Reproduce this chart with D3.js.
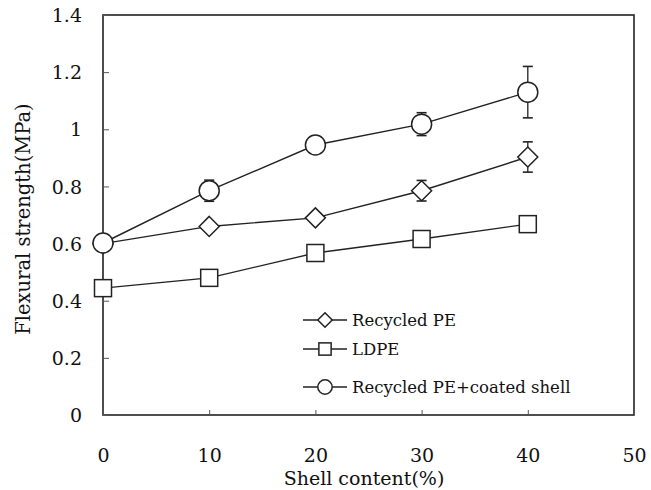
<!DOCTYPE html>
<html>
<head>
<meta charset="utf-8">
<script src="https://cdn.jsdelivr.net/npm/d3@7"></script>
<style>
  body { margin: 0; background: #fff; }
  svg text { fill: #111; }
</style>
</head>
<body>
<div id="chart"></div>
<script>
// data
var shellContent = [0, 10, 20, 30, 40];
var recycledPE = [0.60, 0.66, 0.69, 0.785, 0.903];
var recycledPEErr = [0, 0, 0, 0.036, 0.053];
var ldpe = [0.444, 0.48, 0.567, 0.616, 0.668];
var ldpeErr = [0, 0, 0, 0, 0];
var coatedShell = [0.602, 0.785, 0.945, 1.018, 1.13];
var coatedShellErr = [0, 0.037, 0, 0.04, 0.09];
var xTicks = [0, 10, 20, 30, 40, 50];
var yTicks = [0, 0.2, 0.4, 0.6, 0.8, 1, 1.2, 1.4];

var serif = "DejaVu Serif";
var width = 651, height = 490;
var margin = {top: 15, right: 17, bottom: 75, left: 103};

var svg = d3.select("#chart").append("svg")
    .attr("width", width)
    .attr("height", height)
    .style("font-family", serif);

var x = d3.scaleLinear().domain([0, 50]).range([margin.left, width - margin.right]);
var y = d3.scaleLinear().domain([0, 1.4]).range([height - margin.bottom, margin.top]);

// frame
svg.append("rect")
    .attr("x", x(0)).attr("y", y(1.4))
    .attr("width", x(50) - x(0)).attr("height", y(0) - y(1.4))
    .attr("fill", "none").attr("stroke", "#222").attr("stroke-width", 1.6);

// y axis, ticks inside
var yAxis = svg.append("g")
    .attr("transform", "translate(" + x(0) + ",0)")
    .call(d3.axisRight(y).tickValues(yTicks).tickSize(6).tickFormat(function(d) { return d; }));
yAxis.attr("font-family", null);
yAxis.select(".domain").remove();
yAxis.selectAll("line").attr("stroke", "#555");
yAxis.selectAll("text")
    .attr("x", -21)
    .attr("text-anchor", "end")
    .attr("dy", "0.35em")
    .style("font-family", serif)
    .style("font-size", "19px");

// x axis, ticks inside
var xAxis = svg.append("g")
    .attr("transform", "translate(0," + y(0) + ")")
    .call(d3.axisTop(x).tickValues(xTicks).tickSize(5).tickFormat(function(d) { return d; }));
xAxis.attr("font-family", null);
xAxis.select(".domain").remove();
xAxis.selectAll("line").attr("stroke", "#555");
xAxis.selectAll("text")
    .attr("y", 47)
    .attr("dy", 0)
    .style("font-family", serif)
    .style("font-size", "19px");

// axis titles
svg.append("text")
    .attr("x", 364).attr("y", 485)
    .attr("text-anchor", "middle")
    .style("font-size", "19px")
    .text("Shell content(%)");

svg.append("text")
    .attr("transform", "translate(30,219) rotate(-90)")
    .attr("text-anchor", "middle")
    .style("font-size", "19.5px")
    .text("Flexural strength(MPa)");

var line = d3.line()
    .x(function(d) { return x(d[0]); })
    .y(function(d) { return y(d[1]); });

function drawSeries(vals, errs, marker) {
  var pts = shellContent.map(function(c, i) { return [c, vals[i], errs[i]]; });
  var g = svg.append("g");
  g.append("path")
      .datum(pts)
      .attr("d", line)
      .attr("fill", "none")
      .attr("stroke", "#222")
      .attr("stroke-width", 1.4);
  // error bars
  pts.filter(function(d) { return d[2] > 0; }).forEach(function(d) {
    var cx = x(d[0]);
    [d[1] + d[2], d[1] - d[2]].forEach(function(v) {
      g.append("line")
          .attr("x1", cx).attr("x2", cx)
          .attr("y1", y(d[1])).attr("y2", y(v))
          .attr("stroke", "#222").attr("stroke-width", 1.3);
      g.append("line")
          .attr("x1", cx - 5).attr("x2", cx + 5)
          .attr("y1", y(v)).attr("y2", y(v))
          .attr("stroke", "#222").attr("stroke-width", 1.6);
    });
  });
  pts.forEach(function(d) {
    drawMarker(g, marker, x(d[0]), y(d[1]), 1);
  });
}

function drawMarker(g, marker, cx, cy, s) {
  if (marker === "circle") {
    g.append("circle").attr("cx", cx).attr("cy", cy).attr("r", 10 * s)
        .attr("fill", "#fff").attr("stroke", "#222").attr("stroke-width", 1.5);
  } else if (marker === "square") {
    var h = 8.5 * s;
    g.append("rect").attr("x", cx - h).attr("y", cy - h).attr("width", 2 * h).attr("height", 2 * h)
        .attr("fill", "#fff").attr("stroke", "#222").attr("stroke-width", 1.5);
  } else {
    var r = 10 * s;
    g.append("path")
        .attr("d", "M" + cx + "," + (cy - r) + "L" + (cx + r) + "," + cy + "L" + cx + "," + (cy + r) + "L" + (cx - r) + "," + cy + "Z")
        .attr("fill", "#fff").attr("stroke", "#222").attr("stroke-width", 1.5);
  }
}

drawSeries(ldpe, ldpeErr, "square");
drawSeries(recycledPE, recycledPEErr, "diamond");
drawSeries(coatedShell, coatedShellErr, "circle");

// legend
var legendNames = ["Recycled PE", "LDPE", "Recycled PE+coated shell"];
var legendMarkers = ["diamond", "square", "circle"];
var legendY = [320, 349, 387];
var leg = svg.append("g");
legendNames.forEach(function(name, i) {
  leg.append("line")
      .attr("x1", 303).attr("x2", 347)
      .attr("y1", legendY[i]).attr("y2", legendY[i])
      .attr("stroke", "#222").attr("stroke-width", 1.4);
  drawMarker(leg, legendMarkers[i], 325, legendY[i], 0.72);
  leg.append("text")
      .attr("x", 352).attr("y", legendY[i])
      .attr("dy", "0.35em")
      .style("font-size", "16.5px")
      .text(name);
});
</script>
</body>
</html>
